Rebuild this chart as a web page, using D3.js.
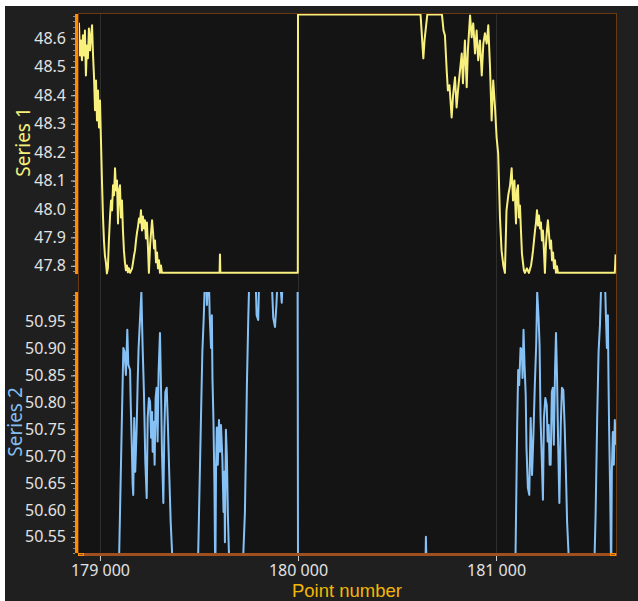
<!DOCTYPE html>
<html><head><meta charset="utf-8">
<script src="https://cdn.jsdelivr.net/npm/d3@7"></script>
<style>html,body{margin:0;padding:0;background:#fff;}svg{display:block;}</style>
</head><body>
<svg id="c" width="638" height="601"></svg>
<script>
// ---- data ----
const xTicks = [179000, 180000, 181000];
const y1Ticks = [47.8, 47.9, 48.0, 48.1, 48.2, 48.3, 48.4, 48.5, 48.6];
const y2Ticks = [50.55, 50.60, 50.65, 50.70, 50.75, 50.80, 50.85, 50.90, 50.95];
const seriesNames = ["Series 1", "Series 2"];
const xTitle = "Point number";

const series1 = [
[178889,48.628],[178894,48.653],[178899,48.540],[178904,48.593],[178909,48.523],[178914,48.611],
[178919,48.540],[178924,48.628],[178929,48.470],[178934,48.575],[178939,48.530],[178944,48.635],
[178950,48.558],[178955,48.611],[178960,48.646],[178965,48.540],[178970,48.463],[178975,48.347],
[178980,48.452],[178985,48.311],[178990,48.417],[178995,48.287],[179000,48.382],[179005,48.241],
[179010,48.100],[179015,47.977],[179020,47.889],[179025,47.836],[179030,47.812],[179035,47.773],
[179040,47.791],[179045,47.889],[179051,47.977],[179056,48.030],[179061,47.995],[179066,48.083],
[179071,48.048],[179076,48.143],[179081,48.065],[179086,48.100],[179091,47.949],[179096,48.065],
[179101,48.083],[179106,47.970],[179111,48.030],[179116,47.924],[179121,47.854],[179126,47.812],
[179131,47.784],[179136,47.801],[179141,47.777],[179146,47.791],[179152,47.775],[179162,47.791],
[179167,47.812],[179172,47.836],[179177,47.854],[179182,47.889],[179187,47.917],[179192,47.938],
[179197,47.966],[179202,47.952],[179207,47.995],[179212,47.924],[179217,47.973],[179222,47.931],
[179227,47.960],[179232,47.896],[179237,47.952],[179242,47.871],[179247,47.775],[179253,47.871],
[179258,47.917],[179263,47.960],[179268,47.917],[179273,47.861],[179278,47.889],[179283,47.812],
[179288,47.847],[179293,47.791],[179298,47.819],[179303,47.775],[179308,47.801],[179313,47.775],
[179318,47.775],[179604,47.775],[179606,47.840],[179608,47.775],[179999,47.775],[180000,48.684],
[180616,48.684],[180619,48.684],[180633,48.530],[180639,48.593],[180653,48.684],[180726,48.684],
[180727,48.684],[180735,48.628],[180742,48.611],[180751,48.487],[180757,48.417],[180765,48.435],
[180776,48.322],[180783,48.399],[180793,48.463],[180801,48.357],[180808,48.417],[180818,48.487],
[180827,48.547],[180833,48.442],[180843,48.593],[180852,48.428],[180858,48.558],[180869,48.681],
[180877,48.604],[180885,48.653],[180894,48.547],[180902,48.628],[180910,48.523],[180919,48.593],
[180928,48.470],[180936,48.582],[180944,48.618],[180953,48.582],[180961,48.646],[180970,48.494],
[180978,48.311],[180986,48.452],[180995,48.357],[181003,48.252],[181011,48.195],[181020,47.970],
[181028,47.854],[181037,47.801],[181045,47.775],[181053,47.995],[181062,48.048],[181071,48.083],
[181079,48.143],[181086,48.030],[181093,48.100],[181101,47.949],[181106,48.065],[181111,48.083],
[181116,47.970],[181121,48.012],[181126,47.924],[181131,47.843],[181136,47.812],[181141,47.784],
[181146,47.775],[181156,47.791],[181166,47.775],[181177,47.801],[181182,47.826],[181187,47.854],
[181192,47.889],[181197,47.924],[181202,47.952],[181207,47.995],[181212,47.942],[181217,47.977],
[181222,47.931],[181227,47.952],[181232,47.889],[181237,47.924],[181242,47.854],[181247,47.775],
[181252,47.871],[181257,47.924],[181262,47.960],[181267,47.917],[181273,47.861],[181278,47.889],
[181283,47.819],[181288,47.847],[181293,47.791],[181298,47.819],[181303,47.775],[181308,47.798],
[181313,47.775],[181600,47.775],[181604,47.840]
];

const series2 = [
[178889,50.50],[179096,50.50],[179110,50.758],[179118,50.901],[179124,50.894],[179131,50.851],
[179138,50.935],[179143,50.870],[179152,50.860],[179155,50.801],[179161,50.715],[179165,50.647],
[179168,50.628],[179173,50.771],[179178,50.671],[179185,50.749],[179190,50.832],[179195,50.901],
[179202,50.953],[179209,51.005],[179215,50.907],[179222,50.819],[179229,50.689],[179236,50.622],
[179241,50.771],[179247,50.808],[179253,50.801],[179258,50.734],[179263,50.782],[179266,50.708],
[179271,50.764],[179276,50.684],[179281,50.808],[179286,50.827],[179291,50.727],[179296,50.857],
[179303,50.929],[179308,50.832],[179313,50.708],[179320,50.613],[179325,50.745],[179330,50.819],
[179337,50.827],[179343,50.758],[179350,50.665],[179357,50.578],[179364,50.522],[179366,50.50],
[179495,50.50],[179500,50.591],[179510,50.771],[179517,50.894],[179524,50.957],[179530,51.03],
[179537,51.03],[179540,50.981],[179545,51.03],[179550,51.03],[179554,50.962],[179561,50.901],
[179565,50.962],[179568,50.845],[179573,50.767],[179578,50.647],[179581,50.522],[179583,50.50],
[179586,50.671],[179590,50.753],[179595,50.684],[179601,50.767],[179606,50.708],[179611,50.758],
[179618,50.697],[179624,50.596],[179628,50.671],[179631,50.540],[179636,50.749],[179641,50.697],
[179646,50.591],[179651,50.522],[179654,50.50],[179722,50.50],[179732,50.596],[179737,50.708],
[179742,50.832],[179749,50.957],[179754,51.03],[179786,51.03],[179791,50.962],[179799,50.953],
[179804,51.03],[179867,51.03],[179875,50.957],[179884,50.940],[179891,50.981],[179897,51.03],
[179909,51.03],[179918,50.985],[179923,51.03],[179998,51.03],[180000,50.50],[180644,50.50],
[180646,50.550],[180649,50.50],[181098,50.50],[181107,50.758],[181112,50.860],[181117,50.832],
[181124,50.901],[181131,50.897],[181134,50.845],[181139,50.935],[181144,50.870],[181150,50.814],
[181154,50.715],[181161,50.641],[181168,50.628],[181175,50.771],[181182,50.665],[181189,50.740],
[181196,50.832],[181203,50.907],[181208,51.005],[181215,50.957],[181220,50.907],[181225,50.771],
[181232,50.684],[181237,50.619],[181242,50.771],[181249,50.808],[181256,50.795],[181261,50.727],
[181266,50.758],[181271,50.684],[181276,50.684],[181282,50.819],[181287,50.827],[181292,50.721],
[181298,50.857],[181303,50.929],[181308,50.851],[181313,50.740],[181320,50.613],[181327,50.758],
[181333,50.827],[181340,50.823],[181347,50.753],[181353,50.671],[181359,50.578],[181366,50.522],
[181368,50.50],[181497,50.50],[181503,50.591],[181511,50.771],[181518,50.894],[181525,50.944],
[181532,51.03],[181550,51.03],[181555,50.962],[181560,50.901],[181565,50.962],[181568,50.845],
[181571,50.758],[181577,50.622],[181580,50.522],[181582,50.50],[181585,50.671],[181590,50.745],
[181595,50.684],[181600,50.767],[181606,50.721]
];

// ---- layout ----
const W = 638, H = 601;
const L = 78, R = 616, T1 = 14, B1 = 274, T2 = 292, B2 = 553;
const FONT = "'Noto Sans', 'Open Sans', sans-serif";

const svg = d3.select("#c");
svg.append("rect").attr("x",5).attr("y",6).attr("width",W-5).attr("height",H-6).attr("fill","#1f1f1f");
svg.append("rect").attr("x",L).attr("y",T1).attr("width",R-L).attr("height",B2-T1).attr("fill","#141414");

const x = d3.scaleLinear().domain([178889, 181606]).range([L, R]);
const y1 = d3.scaleLinear().domain([47.771, 48.686]).range([B1, T1]);
const y2 = d3.scaleLinear().domain([50.520, 51.005]).range([B2, T2]);

// vertical grid lines
svg.append("g").selectAll("line").data(xTicks).join("line")
  .attr("x1",d=>Math.round(x(d))+0.5).attr("x2",d=>Math.round(x(d))+0.5)
  .attr("y1",T1).attr("y2",B2).attr("stroke","#2e2e2e").attr("stroke-width",1);

// clip paths
const defs = svg.append("defs");
defs.append("clipPath").attr("id","clip1").append("rect").attr("x",L).attr("y",T1-2).attr("width",R-L).attr("height",B1-T1+3);
defs.append("clipPath").attr("id","clip2").append("rect").attr("x",L).attr("y",T2).attr("width",R-L).attr("height",B2-T2);

const line1 = d3.line().x(d=>x(d[0])).y(d=>y1(d[1]));
const line2 = d3.line().x(d=>x(d[0])).y(d=>y2(d[1]));

svg.append("path").datum(series1).attr("d",line1).attr("clip-path","url(#clip1)")
  .attr("fill","none").attr("stroke","#f8f07c").attr("stroke-width",2).attr("stroke-linejoin","round");
svg.append("path").datum(series2).attr("d",line2).attr("clip-path","url(#clip2)")
  .attr("fill","none").attr("stroke","#86c1f6").attr("stroke-width",2).attr("stroke-linejoin","round");

// frame (thin brown)
svg.append("line").attr("x1",L).attr("x2",R+0.5).attr("y1",T1-0.5).attr("y2",T1-0.5).attr("stroke","#6a3a10").attr("stroke-width",1);
svg.append("line").attr("x1",R+0.5).attr("x2",R+0.5).attr("y1",T1-1).attr("y2",B2).attr("stroke","#6a3a10").attr("stroke-width",1);
svg.append("line").attr("x1",L+0.5).attr("x2",L+0.5).attr("y1",T1).attr("y2",B2).attr("stroke","#6a3a10").attr("stroke-width",1);

// y axes
function yAxis(scale, ticks, fmt, top, bottom, minorCount){
  const g = svg.append("g");
  g.selectAll("line.minor").data(scale.ticks(minorCount)).join("line")
    .attr("x1",L-5).attr("x2",L-3).attr("y1",d=>Math.round(scale(d))+0.5).attr("y2",d=>Math.round(scale(d))+0.5)
    .attr("stroke","#8a8a8a").attr("stroke-width",1);
  const ax = d3.axisLeft(scale).tickValues(ticks).tickFormat(d3.format(fmt)).tickSize(4).tickPadding(5);
  const a = svg.append("g").attr("transform",`translate(${L-3},0)`).call(ax);
  a.select(".domain").remove();
  a.selectAll(".tick line").attr("stroke","#cfcfcf").attr("stroke-width",1);
  a.selectAll(".tick text").attr("fill","#e2e2e2").style("font-family",FONT).style("font-size","16px");
  svg.append("rect").attr("x",L-3).attr("y",top).attr("width",3).attr("height",bottom-top).attr("fill","#ff8c00");
}
yAxis(y1, y1Ticks, ".1f", T1, B1, 50);
yAxis(y2, y2Ticks, ".2f", T2, B2, 50);

// x axis
const fmtX = d3.formatLocale({decimal:".", thousands:" ", grouping:[3], currency:["",""]}).format(",");
const xa = d3.axisBottom(x).tickValues(xTicks).tickFormat(fmtX).tickSize(5).tickPadding(4);
const xg = svg.append("g").attr("transform",`translate(0,${B2+3})`).call(xa);
xg.select(".domain").remove();
xg.selectAll(".tick line").attr("stroke","#cfcfcf");
xg.selectAll(".tick text").attr("fill","#e2e2e2").style("font-family",FONT).style("font-size","16px");
svg.append("rect").attr("x",L).attr("y",B2).attr("width",R-L+1).attr("height",3).attr("fill","#a0501e");
svg.append("rect").attr("x",L+0.5).attr("y",B2+0.5).attr("width",5).attr("height",2).attr("fill","none").attr("stroke","#ff8c00").attr("stroke-width",1);
svg.append("rect").attr("x",R-5.5).attr("y",B2+0.5).attr("width",5).attr("height",2).attr("fill","none").attr("stroke","#ff8c00").attr("stroke-width",1);

// titles
svg.append("text").attr("x",(L+R)/2).attr("y",597).attr("text-anchor","middle")
  .attr("fill","#f2b705").style("font-family","'Liberation Sans', Arial, sans-serif").style("font-size","18.5px").text(xTitle);
svg.append("text").attr("transform",`translate(30,142) rotate(-90)`).attr("text-anchor","middle")
  .attr("fill","#f6ef7a").style("font-family",FONT).style("font-size","19px").text(seriesNames[0]);
svg.append("text").attr("transform",`translate(22,422) rotate(-90)`).attr("text-anchor","middle")
  .attr("fill","#84bdf0").style("font-family",FONT).style("font-size","19px").text(seriesNames[1]);
</script>
</body></html>
